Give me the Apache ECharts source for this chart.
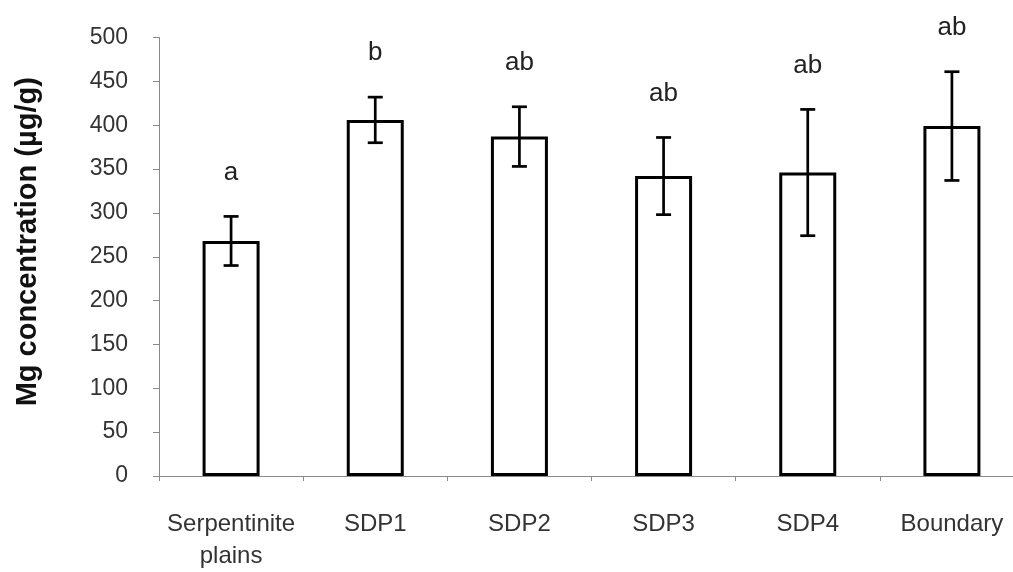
<!DOCTYPE html>
<html>
<head>
<meta charset="utf-8">
<script src="https://cdn.jsdelivr.net/npm/echarts@6/dist/echarts.min.js"></script>
<style>
  html, body { margin: 0; padding: 0; background: #fff; overflow: hidden; }
  /* the category axis runs past the right edge of the view */
  #chart { width: 1024px; height: 572px; }
</style>
</head>
<body>
<div id="chart"></div>
<script>
// Mean Mg concentration per site, with standard error and significance letters
const categories = ['Serpentinite\nplains', 'SDP1', 'SDP2', 'SDP3', 'SDP4', 'Boundary'];
const means = [268, 406, 387, 342, 346, 399];
const errors = [28, 26, 34, 44, 72, 62];
const letters = ['a', 'b', 'ab', 'ab', 'ab', 'ab'];
const yTicks = [0, 50, 100, 150, 200, 250, 300, 350, 400, 450, 500];

const font = 'Liberation Sans, Arial, sans-serif';
const chart = echarts.init(document.getElementById('chart'));

const errData = means.map((m, i) => [i, m - errors[i], m + errors[i], letters[i]]);

chart.setOption({
  animation: false,
  backgroundColor: '#ffffff',
  grid: { left: 159, right: 0, top: 37.5, bottom: 94 },
  xAxis: {
    type: 'category',
    data: categories,
    axisLine: { lineStyle: { color: '#8a8a8a', width: 1 } },
    axisTick: { show: true, length: 5, alignWithLabel: false, lineStyle: { color: '#8a8a8a' } },
    axisLabel: { color: '#333', fontFamily: font, fontSize: 24, margin: 32, lineHeight: 32, interval: 0 },
    splitLine: { show: false }
  },
  yAxis: {
    type: 'value',
    min: yTicks[0],
    max: yTicks[yTicks.length - 1],
    interval: 50,
    name: 'Mg concentration (µg/g)',
    nameLocation: 'middle',
    nameGap: 117,
    nameRotate: 90,
    nameTextStyle: { color: '#111', fontFamily: font, fontSize: 29, fontWeight: 'bold', padding: [0, 0, 0, 30] },
    axisLine: { show: true, lineStyle: { color: '#8a8a8a', width: 1 } },
    axisTick: { show: true, length: 6, lineStyle: { color: '#8a8a8a' } },
    axisLabel: { color: '#333', fontFamily: font, fontSize: 23, margin: 31 },
    splitLine: { show: false }
  },
  series: [
    {
      type: 'bar',
      data: means,
      barWidth: 57,
      itemStyle: { color: '#ffffff', borderColor: '#000', borderWidth: 3 }
    },
    {
      type: 'custom',
      data: errData,
      z: 10,
      renderItem: function (params, api) {
        const x = api.value(0);
        const lo = api.coord([x, api.value(1)]);
        const hi = api.coord([x, api.value(2)]);
        const cap = 7.5;
        const style = { stroke: '#000', lineWidth: 2.7 };
        return {
          type: 'group',
          children: [
            { type: 'line', shape: { x1: hi[0], y1: hi[1], x2: lo[0], y2: lo[1] }, style },
            { type: 'line', shape: { x1: hi[0] - cap, y1: hi[1], x2: hi[0] + cap, y2: hi[1] }, style },
            { type: 'line', shape: { x1: lo[0] - cap, y1: lo[1], x2: lo[0] + cap, y2: lo[1] }, style },
            {
              type: 'text',
              style: {
                text: api.value(3),
                x: hi[0], y: hi[1] - 44,
                align: 'center', verticalAlign: 'middle',
                fill: '#222', font: '26px ' + font
              }
            }
          ]
        };
      }
    }
  ]
});
</script>
</body>
</html>
